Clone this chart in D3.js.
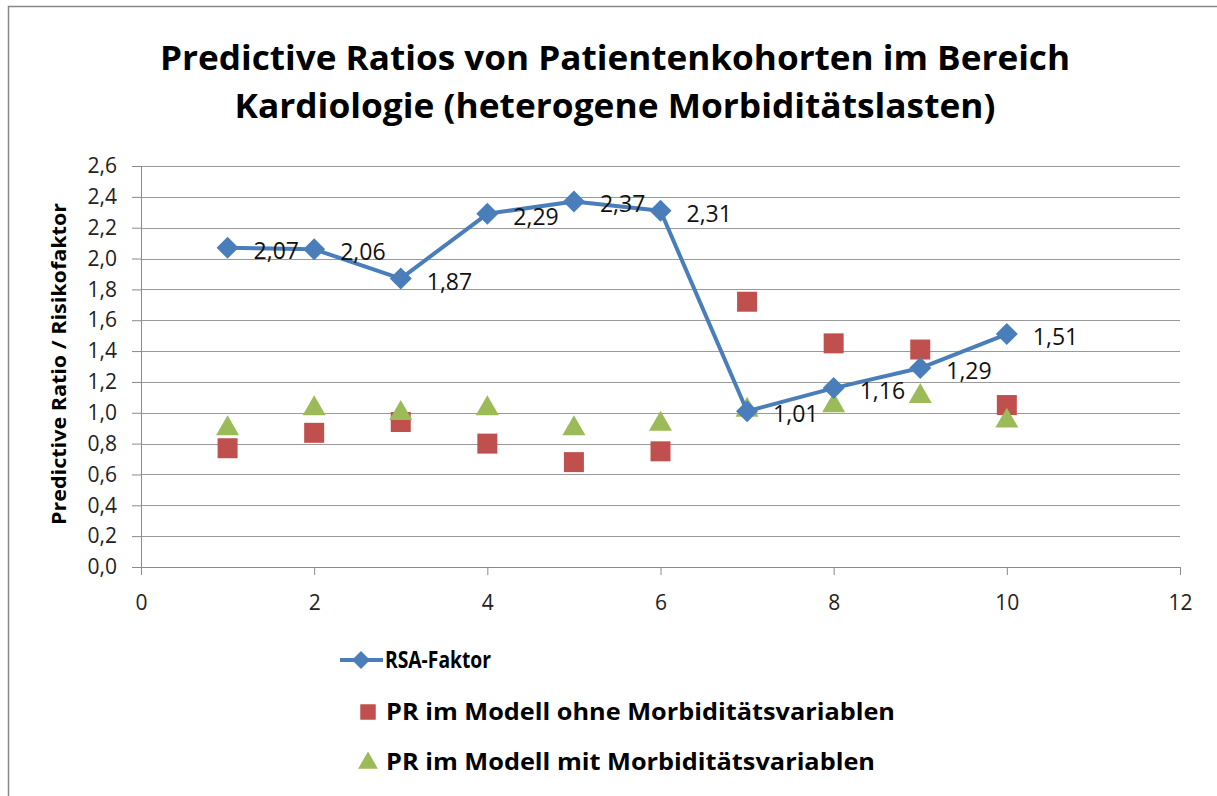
<!DOCTYPE html>
<html><head><meta charset="utf-8">
<script src="https://cdn.jsdelivr.net/npm/d3@7"></script>
<style>body{margin:0;background:#fff}svg{display:block}text{font-family:"Open Sans","Noto Sans",sans-serif}</style>
</head><body><svg id="c" width="1217" height="796"></svg>
<script>
const xs = [1,2,3,4,5,6,7,8,9,10];
const rsa = [2.07,2.06,1.87,2.29,2.37,2.31,1.01,1.16,1.29,1.51];
const ohne = [0.77,0.87,0.94,0.80,0.68,0.75,1.72,1.45,1.41,1.05];
const mit = [0.91,1.04,1.01,1.04,0.91,0.94,1.03,1.06,1.12,0.96];
const xTicks = [0,2,4,6,8,10,12];
const yTicks = [0,0.2,0.4,0.6,0.8,1.0,1.2,1.4,1.6,1.8,2.0,2.2,2.4,2.6];
const titleLines = ["Predictive Ratios von Patientenkohorten im Bereich","Kardiologie (heterogene Morbiditätslasten)"];
const yTitle = "Predictive Ratio / Risikofaktor";
const legendNames = ["RSA-Faktor","PR im Modell ohne Morbiditätsvariablen","PR im Modell mit Morbiditätsvariablen"];
const colors = ["#4A7EBB","#C0504D","#9BBB59"];
const fmt = v => v.toFixed(2).replace(".", ",");
const fmt1 = v => v.toFixed(1).replace(".", ",");

const svg = d3.select("#c");
// outer border
svg.append("path").attr("d","M8.5,796 V6.5 H1217").attr("fill","none").attr("stroke","#878787").attr("stroke-width",1.5);

const x = d3.scaleLinear().domain([0,12]).range([141,1180]);
const y = d3.scaleLinear().domain([0,2.6]).range([567,166]);

// title
const tl = [{t:titleLines[0],y:70,w:910},{t:titleLines[1],y:118,w:761}];
tl.forEach(d=>svg.append("text").attr("x",615).attr("y",d.y).attr("text-anchor","middle")
  .attr("font-size",34).attr("font-weight","bold").attr("fill","#000")
  .attr("textLength",d.w).attr("lengthAdjust","spacingAndGlyphs").text(d.t));

// gridlines
svg.append("g").selectAll("line").data(yTicks.slice(1)).join("line")
  .attr("x1",x(0)).attr("x2",x(12)).attr("y1",d=>Math.round(y(d))+0.5).attr("y2",d=>Math.round(y(d))+0.5)
  .attr("stroke","#9a9a9a").attr("stroke-width",1);

// y axis
const ya = svg.append("g").attr("transform",`translate(${x(0)},0)`)
  .call(d3.axisLeft(y).tickValues(yTicks).tickFormat(fmt1).tickSize(9).tickPadding(15));
ya.select(".domain").attr("stroke","#8a8a8a");
ya.selectAll(".tick line").attr("stroke","#8a8a8a");
ya.selectAll("text").attr("font-size",21).attr("fill","#222").attr("font-family","'Open Sans',sans-serif");

// x axis
const xa = svg.append("g").attr("transform",`translate(0,${y(0)})`)
  .call(d3.axisBottom(x).tickValues(xTicks).tickFormat(d3.format("d")).tickSize(8).tickPadding(20));
xa.select(".domain").attr("stroke","#8a8a8a");
xa.selectAll(".tick line").attr("stroke","#8a8a8a");
xa.selectAll("text").attr("font-size",21).attr("fill","#222").attr("font-family","'Open Sans',sans-serif");

// y title
svg.append("text").attr("transform",`translate(66,364) rotate(-90)`).attr("text-anchor","middle")
  .attr("font-size",20).attr("font-weight","bold").attr("textLength",322).attr("lengthAdjust","spacingAndGlyphs").text(yTitle);

const sq = d3.symbol().type(d3.symbolSquare).size(400);
const tri = d3.symbol().type(d3.symbolTriangle).size(230);
const dia = d => `M0,${-d} L${d},0 L0,${d} L${-d},0 Z`;

// squares
svg.append("g").selectAll("path").data(xs.map((v,i)=>[v,ohne[i]])).join("path")
  .attr("d",sq).attr("transform",d=>`translate(${x(d[0])},${y(d[1])})`).attr("fill",colors[1]);
// triangles
svg.append("g").selectAll("path").data(xs.map((v,i)=>[v,mit[i]])).join("path")
  .attr("d",tri).attr("transform",d=>`translate(${x(d[0])},${y(d[1])+2})`).attr("fill",colors[2]);
// rsa line
svg.append("path").datum(xs.map((v,i)=>[v,rsa[i]]))
  .attr("d",d3.line().x(d=>x(d[0])).y(d=>y(d[1]))).attr("fill","none").attr("stroke",colors[0]).attr("stroke-width",4).attr("stroke-linejoin","round");
svg.append("g").selectAll("path").data(xs.map((v,i)=>[v,rsa[i]])).join("path")
  .attr("d",dia(11)).attr("transform",d=>`translate(${x(d[0])},${y(d[1])})`).attr("fill",colors[0]);
// labels
svg.append("g").selectAll("text").data(xs.map((v,i)=>[v,rsa[i]])).join("text")
  .attr("x",d=>x(d[0])+26).attr("y",d=>y(d[1])+11).attr("font-size",23).attr("fill","#111").text(d=>fmt(d[1]));

// legend
const lg = svg.append("g");
lg.append("line").attr("x1",340).attr("x2",383).attr("y1",660).attr("y2",660).attr("stroke",colors[0]).attr("stroke-width",4);
lg.append("path").attr("d",dia(9)).attr("transform","translate(361,660)").attr("fill",colors[0]);
lg.append("path").attr("d",d3.symbol().type(d3.symbolSquare).size(240)).attr("transform","translate(368,712)").attr("fill",colors[1]);
lg.append("path").attr("d",d3.symbol().type(d3.symbolTriangle).size(170)).attr("transform","translate(368,763)").attr("fill",colors[2]);
const lw = [106,509,489];
const ly = [660,712,762];
legendNames.forEach((n,i)=>lg.append("text").attr("x",i===0?385:386).attr("y",ly[i]+8).attr("font-size",23).attr("font-weight","bold")
  .attr("textLength",lw[i]).attr("lengthAdjust","spacingAndGlyphs").text(n));
</script></body></html>
